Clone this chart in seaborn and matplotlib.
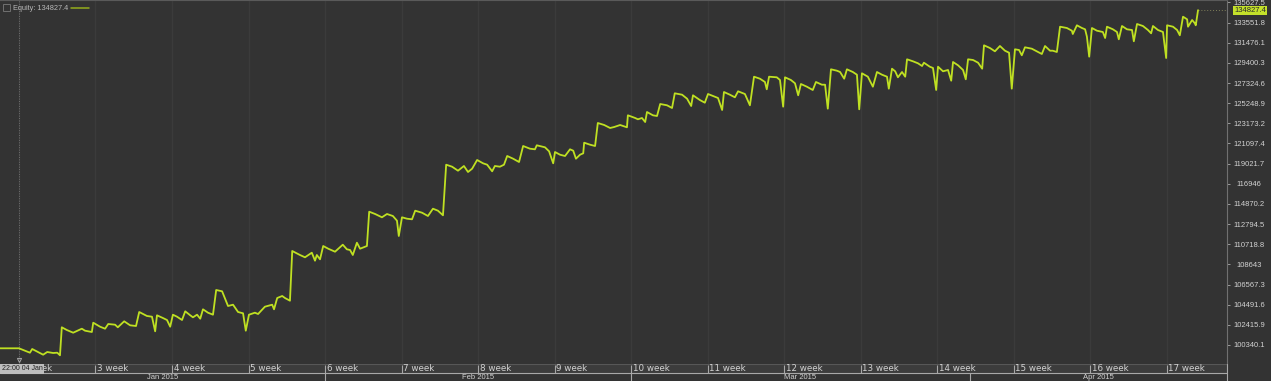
import numpy as np
import pandas as pd
import matplotlib
matplotlib.use("Agg")
import matplotlib.pyplot as plt
from matplotlib.patches import Rectangle
from matplotlib.lines import Line2D
import seaborn as sns

# ---------------- data ----------------
# time of each equity point, in hours since 2015-01-01 00:00
hours = [
    30, 72, 96, 101, 125, 134, 147, 156, 162, 166,
    177, 191, 210, 217, 232, 235, 250, 261, 268, 283,
    289, 303, 316, 329, 336, 353, 364, 371, 375, 388,
    397, 404, 410, 419, 430, 437, 448, 454, 463, 470,
    476, 487, 498, 505, 518, 531, 542, 553, 564, 570,
    577, 590, 597, 612, 628, 632, 639, 650, 656, 667,
    672, 689, 700, 715, 722, 726, 733, 740, 751, 766,
    783, 792, 799, 805, 814, 821, 836, 841, 854, 869,
    880, 893, 902, 906, 913, 924, 935, 942, 957, 970,
    981, 992, 1003, 1010, 1023, 1036, 1049, 1058, 1067, 1078,
    1091, 1100, 1111, 1117, 1128, 1137, 1144, 1157, 1170, 1179,
    1194, 1205, 1209, 1227, 1236, 1245, 1249, 1260, 1271, 1282,
    1289, 1295, 1304, 1311, 1313, 1326, 1337, 1343, 1357, 1370,
    1379, 1392, 1407, 1409, 1425, 1431, 1440, 1447, 1451, 1464,
    1473, 1480, 1495, 1506, 1512, 1528, 1539, 1548, 1552, 1567,
    1578, 1585, 1600, 1607, 1616, 1620, 1633, 1644, 1651, 1666,
    1677, 1686, 1699, 1710, 1714, 1719, 1736, 1743, 1750, 1754,
    1767, 1776, 1783, 1789, 1802, 1815, 1822, 1835, 1842, 1848,
    1855, 1868, 1875, 1884, 1890, 1903, 1912, 1917, 1923, 1936,
    1947, 1956, 1967, 1978, 1982, 1989, 1996, 2002, 2011, 2018,
    2022, 2035, 2046, 2055, 2059, 2072, 2079, 2086, 2090, 2101,
    2112, 2119, 2123, 2134, 2145, 2151, 2156, 2167, 2178, 2187,
    2191, 2204, 2215, 2226, 2237, 2246, 2252, 2259, 2268, 2274,
    2281, 2296, 2307, 2318, 2325, 2336, 2342, 2351, 2358, 2373,
    2384, 2386, 2395, 2406, 2413, 2417, 2422, 2428, 2439, 2452,
    2457, 2461, 2474, 2483, 2487, 2494, 2505, 2516, 2520, 2527,
    2540, 2551, 2558, 2562, 2573, 2584, 2591, 2593, 2606, 2615,
    2621, 2628, 2637, 2639, 2648, 2654, 2656, 2661,
]

equity = [
    100000, 100000, 99547, 99928, 99341, 99619, 99516, 99547, 99279, 102163,
    101885, 101607, 102019, 101813, 101679, 102637, 102225, 102019, 102503, 102431,
    102163, 102781, 102369, 102297, 103739, 103327, 103255, 101751, 103399, 103121,
    102915, 102225, 103461, 103255, 102915, 103811, 103399, 103193, 103461, 103049,
    104017, 103667, 103461, 106005, 105871, 104357, 104491, 103739, 103605, 101813,
    103461, 103667, 103533, 104285, 104491, 104017, 105181, 105387, 105181, 104903,
    110022, 109610, 109373, 109847, 109023, 109610, 109167, 110537, 110259, 109950,
    110671, 110197, 110125, 109610, 110877, 110259, 110537, 114070, 113833, 113493,
    113833, 113627, 113143, 111567, 113493, 113349, 113287, 114173, 113967, 113627,
    114379, 114173, 113699, 118911, 118705, 118293, 118777, 118159, 118499, 119395,
    119055, 118911, 118231, 118777, 118705, 118911, 119807, 119529, 119189, 120837,
    120559, 120497, 120909, 120703, 120291, 119055, 120219, 119941, 119807, 120497,
    120353, 119529, 119941, 120085, 121177, 120971, 120837, 123206, 123000, 122691,
    122794, 123000, 122763, 123999, 123721, 123587, 123721, 123309, 124339, 123999,
    123927, 125163, 125029, 124751, 126265, 126121, 125709, 124957, 126059, 125575,
    125297, 126193, 125915, 125781, 124545, 126399, 126121, 125853, 126471, 126193,
    125029, 127975, 127769, 127429, 126677, 127975, 127913, 127635, 124885, 127913,
    127635, 127295, 126059, 127223, 126945, 126605, 127429, 127151, 127151, 124679,
    128737, 128593, 128459, 127769, 128737, 128459, 128181, 124617, 128325, 127975,
    126945, 128459, 128181, 127975, 126739, 128799, 128531, 127913, 128459, 127975,
    129767, 129561, 129355, 129077, 129417, 129005, 128871, 126605, 129005, 128531,
    128665, 127563, 129489, 129149, 128665, 127707, 129767, 129695, 129417, 128799,
    131209, 130931, 130591, 131137, 130653, 130447, 126739, 130797, 130725, 130179,
    131003, 130859, 130591, 130313, 131137, 130653, 130653, 130519, 133125, 132991,
    132713, 132373, 133269, 132991, 132857, 132095, 130035, 132991, 132713, 132579,
    131961, 133125, 132857, 132579, 131827, 133197, 132857, 132785, 131621, 133403,
    133197, 132785, 132445, 133197, 132785, 132579, 129901, 133269, 133125, 132785,
    132239, 134155, 133887, 133125, 133815, 133475, 133269, 134827.4,
]

y_ticks = [100340.1, 102415.9, 104491.6, 106567.3, 108643.0, 110718.8,
           112794.5, 114870.2, 116946.0, 119021.7, 121097.4, 123173.2,
           125248.9, 127324.6, 129400.3, 131476.1, 133551.8, 135627.5]
y_tick_labels = ["100340.1", "102415.9", "104491.6", "106567.3", "108643",
                 "110718.8", "112794.5", "114870.2", "116946", "119021.7",
                 "121097.4", "123173.2", "125248.9", "127324.6", "129400.3",
                 "131476.1", "133551.8", "135627.5"]

week_labels = [f"{n} week" for n in range(2, 18)]
week_starts = pd.date_range("2015-01-04", periods=len(week_labels), freq="7D")
month_labels = ["Jan 2015", "Feb 2015", "Mar 2015", "Apr 2015"]
month_bounds = pd.to_datetime(["2015-01-01", "2015-02-01", "2015-03-01",
                               "2015-04-01", "2015-05-01"])
cursor_label = "22:00 04 Jan"
legend_label = "Equity: 134827.4"
last_label = "134827.4"

# ---------------- styling ----------------
W, H = 1271, 381
BG = "#333333"
LINE = "#bfe022"
TXT = "#d2d2d2"

sns.set_theme(style="dark")
plt.rcParams["font.family"] = ["Liberation Sans", "DejaVu Sans"]

base = pd.Timestamp("2015-01-01")
times = base + pd.to_timedelta(hours, unit="h")
df = pd.DataFrame({"time": times, "equity": equity})

x0 = base + pd.Timedelta(hours=30.3)
x1 = base + pd.Timedelta(hours=2724.6)

fig = plt.figure(figsize=(W / 100, H / 100), dpi=100, facecolor=BG)
plot_right = 1227
band_h = 17
ax = fig.add_axes([0, band_h / H, plot_right / W, (H - band_h) / H])
ax.set_facecolor(BG)

sns.lineplot(data=df, x="time", y="equity", ax=ax, color=LINE, linewidth=1.3,
             estimator=None, sort=False, legend=False, zorder=4)

ax.set_xlim(x0, x1)
ax.set_ylim(98383, 135875)
ax.set_xlabel("")
ax.set_ylabel("")

# faint weekly grid
ax.set_xticks(week_starts)
ax.tick_params(axis="x", length=0, labelbottom=False, bottom=False)
ax.grid(True, axis="x", color="#3b3b3b", linewidth=0.9)
ax.grid(False, axis="y")

# right price axis
ax.yaxis.tick_right()
ax.set_yticks(y_ticks)
ax.set_yticklabels(y_tick_labels)
ax.tick_params(axis="y", right=True, left=False, length=2.5, width=0.7,
               color="#9a9a9a", labelsize=5.5, labelcolor=TXT, pad=13.3)
plt.setp(ax.get_yticklabels(), ha="center")

for s in ["left", "bottom"]:
    ax.spines[s].set_visible(False)
ax.spines["top"].set_color("#5a5a5a")
ax.spines["top"].set_linewidth(0.8)
ax.spines["right"].set_color("#707070")
ax.spines["right"].set_linewidth(0.8)

# last value marker + dotted guide
ax.plot([times[-1], x1], [equity[-1], equity[-1]], ls=(0, (1, 2)),
        color="#80805a", lw=0.7, zorder=3)
ax.text(1.0187, equity[-1], last_label, transform=ax.get_yaxis_transform(),
        ha="center", va="center", fontsize=5.5, color="#2a2a2a",
        bbox=dict(boxstyle="square,pad=0.15", fc="#c4e12a", ec="none"),
        clip_on=False, zorder=6)

# crosshair
ax.axvline(times[1], color="#707070", ls=(0, (1, 1.5)), lw=0.7, zorder=2)
ax.plot([times[1]], [0.012], transform=ax.get_xaxis_transform(), marker="v",
        ms=3, mfc="none", mec="#a8a8a8", mew=0.7, zorder=5)

# ---------------- bottom time band ----------------
axb = fig.add_axes([0, 0, plot_right / W, band_h / H])
axb.set_xlim(x0, x1)
axb.set_ylim(0, band_h)
axb.set_axis_off()
axb.axhspan(8, band_h, color="#3c3c3c", zorder=0)
axb.axhline(band_h - 0.4, color="#575757", lw=0.8)
axb.axhline(8, color="#a8a8a8", lw=0.8)
axb.vlines(week_starts, 8.5, 16.3, color="#a8a8a8", lw=0.8)
for d, lbl in zip(week_starts, week_labels):
    axb.annotate(lbl, (d, 12.4), xytext=(1.3, 0), textcoords="offset points",
                 fontsize=6.3, family="DejaVu Sans", color=TXT, va="center",
                 ha="left", annotation_clip=False)
axb.vlines(month_bounds[1:4], 0, 8, color="#a8a8a8", lw=0.8)
for i, lbl in enumerate(month_labels):
    lo = max(month_bounds[i], x0)
    hi = min(month_bounds[i + 1], x1)
    axb.text(lo + (hi - lo) / 2, 3.6, lbl, fontsize=5.5, color=TXT,
             ha="center", va="center")

fig.add_artist(Line2D([plot_right / W] * 2, [0, band_h / H],
                      transform=fig.transFigure, color="#a8a8a8", lw=0.8))

# cursor time label
fig.text(1.5 / W, (H - 368.6) / H, cursor_label, fontsize=5, color="#222222",
         ha="left", va="center",
         bbox=dict(boxstyle="square,pad=0.22", fc="#bdbdbd", ec="none"),
         zorder=10)

# legend header
fig.add_artist(Rectangle((3.3 / W, (H - 11) / H), 6.7 / W, 7 / H,
                         transform=fig.transFigure, fill=False,
                         ec="#707070", lw=0.7))
fig.text(13.3 / W, (H - 8.3) / H, legend_label, fontsize=5.3, color="#b8b8b8",
         ha="left", va="center")
fig.add_artist(Line2D([70.7 / W, 89.3 / W], [(H - 7.7) / H] * 2,
                      transform=fig.transFigure, color="#94ad1c", lw=1.1))

fig.savefig("out.png", dpi=100, facecolor=BG)
